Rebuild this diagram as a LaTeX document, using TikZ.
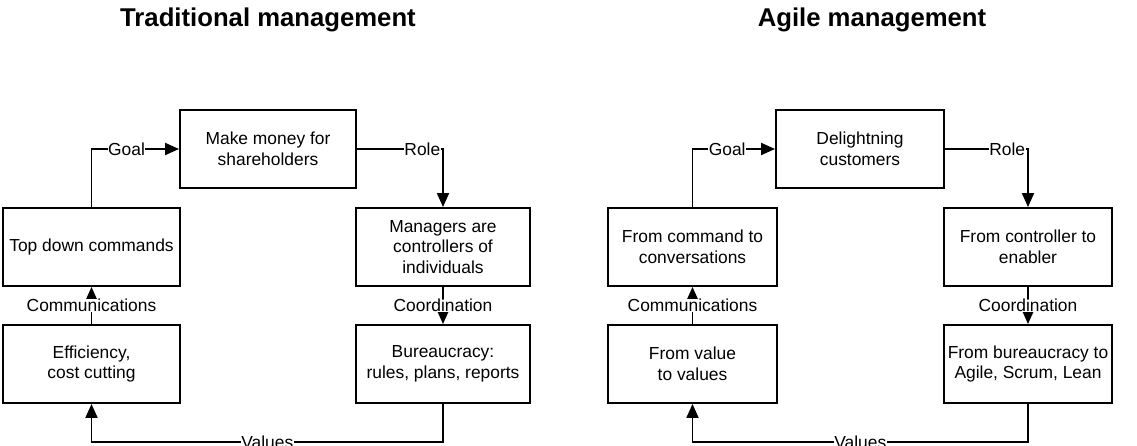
\documentclass[tikz,border=0pt]{standalone}
\usepackage{fontspec}
\setmainfont{Liberation Sans}
\usetikzlibrary{arrows.meta}
\tikzset{
  box/.style={draw, line width=1.9pt, align=center, inner sep=2pt,
    minimum height=78pt, font=\fontsize{17.4}{20.7}\selectfont},
  link/.style={line width=1.9pt, -{Triangle[length=14pt,width=12pt]}},
  tag/.style={fill=white, inner sep=0.5pt, font=\fontsize{17.4}{20.7}\selectfont},
  heading/.style={font=\fontsize{25.7}{30}\selectfont\bfseries, anchor=base},
}
\begin{document}
\begin{tikzpicture}[x=1pt,y=-1pt]
\useasboundingbox (0,0) rectangle (1137,446);

% ---------- Traditional management ----------
\node[heading] (tradtitle) at (268,27) {Traditional management};

\node[box, minimum width=176pt] (money)    at (268,149)  {Make money for\\shareholders};
\node[box, minimum width=177pt] (topdown)  at (91.5,247) {Top down commands};
\node[box, minimum width=177pt] (eff)      at (91.5,364) {Efficiency,\\cost cutting};
\node[box, minimum width=174pt] (managers) at (443,247)  {Managers are\\controllers of\\individuals};
\node[box, minimum width=174pt] (bureau)   at (443,364)  {Bureaucracy:\\rules, plans, reports};

\draw[link] (topdown.north) |- node[tag, pos=0.7] {Goal} (money.west);
\draw[link] (money.east) -| node[tag, pos=0.38] {Role} (managers.north);
\draw[link] (managers.south) -- node[tag] {Coordination} (bureau.north);
\draw[link] (eff.north) -- node[tag] {Communications} (topdown.south);
\draw[link] (bureau.south) -- ++(0,38) -| node[tag, pos=0.25] {Values} (eff.south);

% ---------- Agile management ----------
\node[heading] (agiletitle) at (872,27) {Agile management};

\node[box, minimum width=168pt] (delight)  at (860,149)   {Delightning\\customers};
\node[box, minimum width=169pt] (fromcmd)  at (692.5,247) {From command to\\conversations};
\node[box, minimum width=169pt] (fromval)  at (692.5,364) {From value\\to values};
\node[box, minimum width=168pt] (fromctrl) at (1028,247)  {From controller to\\enabler};
\node[box, minimum width=168pt] (frombur)  at (1028,364)  {From bureaucracy to\\Agile, Scrum, Lean};

\draw[link] (fromcmd.north) |- node[tag, pos=0.71] {Goal} (delight.west);
\draw[link] (delight.east) -| node[tag, pos=0.375] {Role} (fromctrl.north);
\draw[link] (fromctrl.south) -- node[tag] {Coordination} (frombur.north);
\draw[link] (fromval.north) -- node[tag] {Communications} (fromcmd.south);
\draw[link] (frombur.south) -- ++(0,38) -| node[tag, pos=0.25] {Values} (fromval.south);
\end{tikzpicture}
\end{document}
